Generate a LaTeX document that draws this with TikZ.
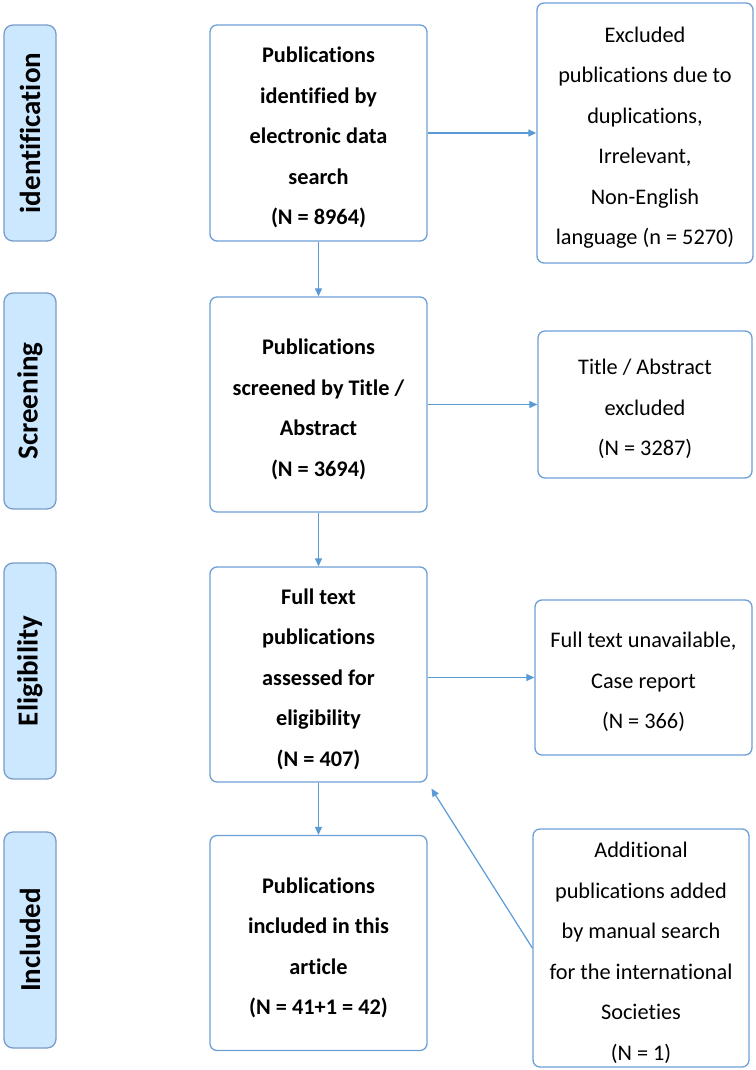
\documentclass[tikz,border=0pt]{standalone}
\usepackage{fontspec}
\setmainfont{Carlito}[Ligatures=NoCommon]
\usetikzlibrary{arrows.meta}
\definecolor{bord}{HTML}{6E9FD6}
\definecolor{lab}{HTML}{CCE8FF}
\definecolor{labbord}{HTML}{7A9CC8}
\definecolor{arrc}{HTML}{5B9BD5}
\newcommand\topgap{\rule{0pt}{25pt}}
\tikzset{
  mainbox/.style={draw=bord, line width=1.3pt, rounded corners=7pt, minimum width=217pt, minimum height=215pt, align=center, font=\fontsize{22.3}{40.5}\selectfont\bfseries, inner sep=0pt},
  sidebox/.style={draw=bord, line width=1.3pt, rounded corners=7pt, align=center, font=\fontsize{22.3}{40.5}\selectfont, inner sep=0pt},
  phase/.style={draw=labbord, fill=lab, line width=1.3pt, rounded corners=9pt, rotate=90, minimum width=216pt, minimum height=52pt, font=\fontsize{29}{29}\selectfont\bfseries, inner sep=0pt},
  arr/.style={draw=arrc, line width=1.2pt, -{Triangle[length=8pt,width=7pt]}}
}
\begin{document}
\begin{tikzpicture}[x=1pt,y=-1pt]
\useasboundingbox (0,0) rectangle (755,1070);
% phase labels
\node[phase] (p1) at (30,133) {identification};
\node[phase] (p2) at (30,401) {Screening};
\node[phase] (p3) at (30,671) {Eligibility};
\node[phase] (p4) at (30,940) {Included};
% main boxes
\node[mainbox, minimum height=216pt] (b1) at (318.5,133) {\topgap Publications\\identified by\\electronic data\\search\\(N = 8964)};
\node[mainbox] (b2) at (318.5,404.5) {\topgap Publications\\screened by Title /\\Abstract\\(N = 3694)};
\node[mainbox] (b3) at (318.5,674.5) {\topgap Full text\\publications\\assessed for\\eligibility\\(N = 407)};
\node[mainbox] (b4) at (318.5,943) {\topgap Publications\\included in this\\article\\(N = 41+1 = 42)};
% side boxes
\node[sidebox, minimum width=216pt, minimum height=260pt] (r1) at (645,133) {\topgap Excluded\\publications due to\\duplications,\\Irrelevant,\\Non-English\\language (n = 5270)};
\node[sidebox, minimum width=214pt, minimum height=147pt] (r2) at (645,404.5) {\topgap Title / Abstract\\excluded\\(N = 3287)};
\node[sidebox, minimum width=217pt, minimum height=155pt] (r3) at (643.5,677.5) {\topgap Full text unavailable,\\Case report\\(N = 366)};
\node[sidebox, minimum width=216pt, minimum height=238pt] (r4) at (641,948) {\topgap Additional\\publications added\\by manual search\\for the international\\Societies\\(N = 1)};
% connectors
\draw[arr] (b1.east) -- (r1.west);
\draw[arr] (b2.east) -- (r2.west);
\draw[arr] (b3.east |- r3.west) -- (r3.west);
\draw[arr] (b1.south) -- (b2.north);
\draw[arr] (b2.south) -- (b3.north);
\draw[arr] (b3.south) -- (b4.north);
\draw[arr, shorten >=7pt] (r4.west) -- (b3.south east);
\end{tikzpicture}
\end{document}
